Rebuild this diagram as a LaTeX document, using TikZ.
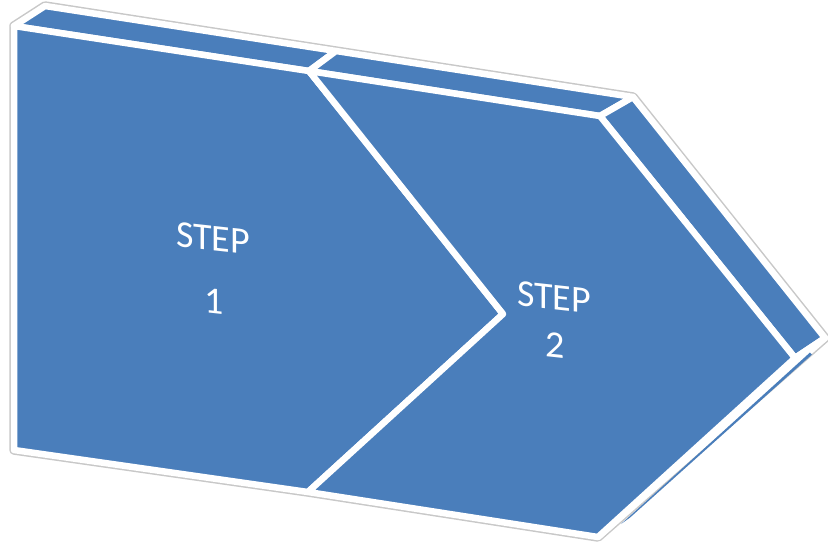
\documentclass[tikz,border=0pt]{standalone}
\usepackage{fontspec}
\setmainfont{Carlito}
\definecolor{stepblue}{RGB}{74,126,187}
\definecolor{rimgray}{RGB}{200,200,200}
\tikzset{
  face/.style={fill=stepblue, draw=white, line width=6.5pt, line join=round},
  rim/.style={draw=rimgray, line width=9.5pt, line join=round, fill=white},
  steplabel/.style={text=white, font=\fontsize{38}{42}\selectfont, align=center,
    inner sep=0pt, transform shape},
  tilt/.style={yslant=-0.11}
}
\begin{document}
\begin{tikzpicture}[x=1pt, y=-1pt]
  \useasboundingbox (0,0) rectangle (828,542);
  % corner points of the two blocks
  \coordinate (A) at (14,26);    % front top-left, step 1
  \coordinate (B) at (45,6);     % back top-left, step 1
  \coordinate (C) at (336,51);   % back joint on top
  \coordinate (D) at (309,71);   % front joint on top
  \coordinate (E) at (633,97);   % back top-right, step 2
  \coordinate (F) at (600,116);  % front top-right, step 2
  \coordinate (G) at (825,338);  % back right tip
  \coordinate (H) at (795,358);  % front right tip
  \coordinate (I) at (598,537);  % bottom-right corner
  \coordinate (M) at (308,492);  % bottom joint
  \coordinate (L) at (14,450);   % bottom-left
  \coordinate (N) at (503,314);  % notch tip
  % outer outline
  \path[rim] (L) -- (A) -- (B) -- (E) -- (G) -- (I) -- (M) -- cycle;
  % faces
  \path[face] (A) -- (B) -- (C) -- (D) -- cycle;
  \path[face] (D) -- (C) -- (E) -- (F) -- cycle;
  \path[face] (F) -- (E) -- (G) -- (H) -- cycle;
  \path[face] (H) -- (G) -- (I) -- cycle;
  \path[face] (A) -- (D) -- (N) -- (M) -- (L) -- cycle;
  \path[face] (D) -- (F) -- (H) -- (I) -- (M) -- (N) -- cycle;
  % underside of step 2, seen almost edge-on
  \coordinate (U1) at (621,524);
  \coordinate (U2) at (810,352.5);
  \coordinate (U3) at (812,354.5);
  \coordinate (U4) at (630,517.6);
  \fill[stepblue] (U1) -- (U2) -- (U3) -- (U4) -- cycle;
  % labels
  \begin{scope}[shift={(213,238)}, tilt]
    \node[steplabel] (s1) at (0,0) {STEP};
  \end{scope}
  \begin{scope}[shift={(214,301)}, tilt]
    \node[steplabel] (n1) at (0,0) {1};
  \end{scope}
  \begin{scope}[shift={(554,297)}, tilt]
    \node[steplabel] (s2) at (0,0) {STEP};
  \end{scope}
  \begin{scope}[shift={(555,345)}, tilt]
    \node[steplabel] (n2) at (0,0) {2};
  \end{scope}
\end{tikzpicture}
\end{document}
